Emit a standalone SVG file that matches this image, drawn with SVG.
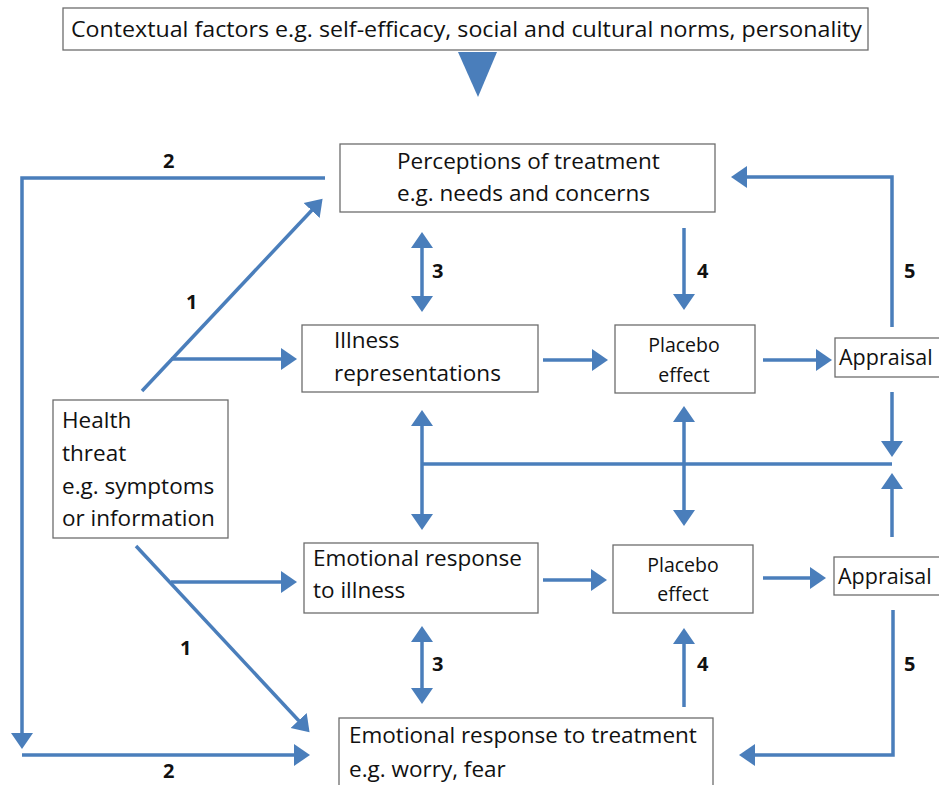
<svg xmlns="http://www.w3.org/2000/svg" width="939" height="785" viewBox="0 0 939 785">
<style>
.box{fill:#fff;stroke:#6d6d6d;stroke-width:1.3}
.t{font-family:"Open Sans","Liberation Sans",Arial,sans-serif;font-size:22.5px;fill:#111}
.s{font-size:19.5px}
.a{font-size:21.5px}
.n{font-family:"Open Sans","Liberation Sans",Arial,sans-serif;font-size:20px;font-weight:bold;fill:#111}
.c{fill:none;stroke:#4a7ebb;stroke-width:3.5}
.e{marker-end:url(#ah)}
.b{marker-start:url(#ah);marker-end:url(#ah)}
</style>
<defs>
<marker id="ah" markerUnits="userSpaceOnUse" markerWidth="18" markerHeight="24" refX="2" refY="12" orient="auto-start-reverse" viewBox="0 0 18 24">
<path d="M0,1 L16,12 L0,23 Z" fill="#4a7ebb"/>
</marker>
</defs>
<rect width="939" height="785" fill="#fff"/>
<g id="connectors">
<polygon points="458,52 497,52 478,97" fill="#4a7ebb"/>
<polyline class="c e" points="325,178 22,178 22,735"/>
<polyline class="c e" points="22,755 296,755"/>
<line class="c e" x1="142" y1="391" x2="313" y2="209"/>
<line class="c e" x1="171" y1="359" x2="283" y2="359"/>
<line class="c e" x1="136" y1="546" x2="300" y2="722"/>
<line class="c e" x1="171" y1="582" x2="283" y2="582"/>
<line class="c b" x1="422" y1="246" x2="422" y2="298"/>
<line class="c e" x1="684" y1="228" x2="684" y2="296"/>
<polyline class="c e" points="892,327 892,177 745,177"/>
<line class="c e" x1="543" y1="360" x2="594" y2="360"/>
<line class="c e" x1="763" y1="360" x2="818" y2="360"/>
<line class="c b" x1="422" y1="424" x2="422" y2="516"/>
<line class="c" x1="422" y1="464" x2="892" y2="464"/>
<line class="c b" x1="684" y1="420" x2="684" y2="512"/>
<line class="c e" x1="892" y1="392" x2="892" y2="443"/>
<line class="c e" x1="892" y1="537" x2="892" y2="487"/>
<line class="c e" x1="543" y1="580" x2="593" y2="580"/>
<line class="c e" x1="763" y1="578" x2="812" y2="578"/>
<line class="c b" x1="422" y1="640" x2="422" y2="690"/>
<line class="c e" x1="684" y1="707" x2="684" y2="642"/>
<polyline class="c e" points="893,610 893,755 753,755"/>
</g>
<g id="labels">
<text class="n" x="163" y="168">2</text>
<text class="n" x="163" y="778">2</text>
<text class="n" x="186" y="309">1</text>
<text class="n" x="180" y="655">1</text>
<text class="n" x="432" y="278">3</text>
<text class="n" x="432" y="671">3</text>
<text class="n" x="697" y="278">4</text>
<text class="n" x="697" y="671">4</text>
<text class="n" x="904" y="278">5</text>
<text class="n" x="904" y="671">5</text>
</g>
<g id="context">
<rect class="box" x="63" y="8" width="805" height="42"/>
<text class="t" x="71" y="37" style="font-size:21px" textLength="791" lengthAdjust="spacingAndGlyphs">Contextual factors e.g. self-efficacy, social and cultural norms, personality</text>
</g>
<g id="perceptions">
<rect class="box" x="340" y="144" width="375" height="68"/>
<text class="t" x="397" y="169">Perceptions of treatment</text>
<text class="t" x="397" y="201">e.g. needs and concerns</text>
</g>
<g id="illness">
<rect class="box" x="302" y="325" width="236" height="67"/>
<text class="t" x="334" y="348">Illness</text>
<text class="t" x="334" y="381">representations</text>
</g>
<g id="placebo1">
<rect class="box" x="615" y="325" width="140" height="68"/>
<text class="t s" x="684" y="352" text-anchor="middle">Placebo</text>
<text class="t s" x="684" y="382" text-anchor="middle">effect</text>
</g>
<g id="appraisal1">
<rect class="box" x="835" y="338" width="110" height="39"/>
<text class="t a" x="839" y="365">Appraisal</text>
</g>
<g id="health">
<rect class="box" x="53" y="400" width="175" height="138"/>
<text class="t" x="62" y="428">Health</text>
<text class="t" x="62" y="461">threat</text>
<text class="t" x="62" y="494">e.g. symptoms</text>
<text class="t" x="62" y="526">or information</text>
</g>
<g id="emotional-illness">
<rect class="box" x="304" y="543" width="234" height="70"/>
<text class="t" x="313" y="566">Emotional response</text>
<text class="t" x="313" y="598">to illness</text>
</g>
<g id="placebo2">
<rect class="box" x="613" y="545" width="140" height="68"/>
<text class="t s" x="683" y="572" text-anchor="middle">Placebo</text>
<text class="t s" x="683" y="601" text-anchor="middle">effect</text>
</g>
<g id="appraisal2">
<rect class="box" x="834" y="557" width="110" height="38"/>
<text class="t a" x="838" y="584">Appraisal</text>
</g>
<g id="emotional-treatment">
<rect class="box" x="339" y="718" width="374" height="75"/>
<text class="t" x="349" y="743">Emotional response to treatment</text>
<text class="t" x="349" y="777">e.g. worry, fear</text>
</g>
</svg>
